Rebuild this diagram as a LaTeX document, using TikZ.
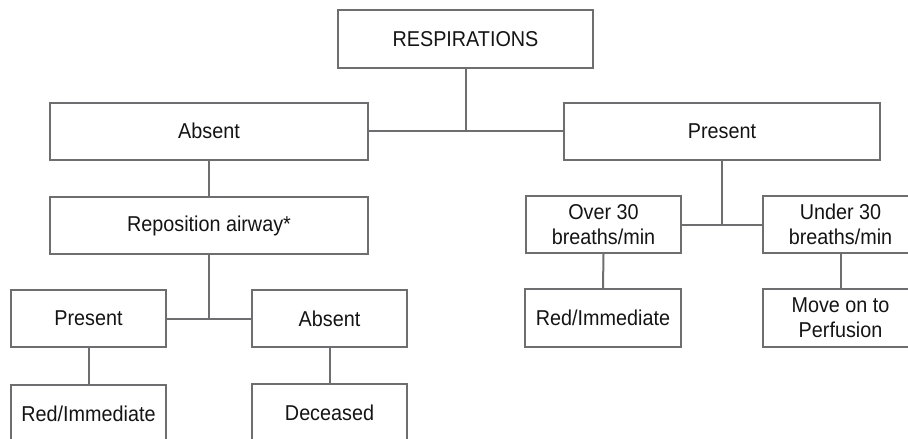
\documentclass[tikz,border=0pt]{standalone}
\usepackage{fontspec}
\setmainfont[FakeStretch=0.92]{Liberation Sans}
\definecolor{linegray}{RGB}{110,110,113}
\definecolor{textblack}{RGB}{20,20,20}
\tikzset{
  box/.style={draw=linegray, line width=2pt, fill=white, rectangle, align=center,
    inner sep=0pt, text=textblack, font=\fontsize{21.5}{25}\selectfont},
  link/.style={draw=linegray, line width=2pt}
}
\begin{document}
\begin{tikzpicture}[x=1pt,y=-1pt]
\useasboundingbox (0,0) rectangle (908,439);
\clip (0,0) rectangle (908,439);
% nodes
\node[box, minimum width=255pt, minimum height=58pt] (resp) at (465.5,39) {RESPIRATIONS};
\node[box, minimum width=318pt, minimum height=57pt] (absent) at (209,131) {Absent};
\node[box, minimum width=316pt, minimum height=57pt] (present) at (722,131) {Present};
\node[box, minimum width=318pt, minimum height=57pt] (repos) at (209,225.5) {Reposition airway*};
\node[box, minimum width=155pt, minimum height=57pt] (over) at (603.5,224.5) {Over 30\\breaths/min};
\node[box, minimum width=155pt, minimum height=57pt] (under) at (840.5,224.5) {Under 30\\breaths/min};
\node[box, minimum width=155pt, minimum height=57pt] (pres2) at (88.5,318.5) {Present};
\node[box, minimum width=155pt, minimum height=57pt] (abs2) at (329.5,318.5) {Absent};
\node[box, minimum width=156pt, minimum height=58pt] (red2) at (603,318) {Red/Immediate};
\node[box, minimum width=155pt, minimum height=58pt] (move) at (840.5,318) {Move on to\\Perfusion};
\node[box, minimum width=155pt, minimum height=57pt] (red1) at (88.5,413.5) {Red/Immediate};
\node[box, minimum width=155pt, minimum height=57pt] (dec) at (329.5,412.5) {Deceased};
% connectors
\draw[link] (resp.south) -- (resp.south |- absent.east);
\draw[link] (absent.east) -- (present.west);
\draw[link] (absent.south) -- (repos.north);
\draw[link] (repos.south) -- (repos.south |- pres2.east);
\draw[link] (pres2.east) -- (abs2.west);
\draw[link] (pres2.south) -- (red1.north);
\draw[link] (abs2.south) -- (dec.north);
\draw[link] (present.south) -- (present.south |- over.east);
\draw[link] (over.east) -- (under.west);
\draw[link] (over.south) -- (red2.north);
\draw[link] (under.south) -- (move.north);
\end{tikzpicture}
\end{document}
